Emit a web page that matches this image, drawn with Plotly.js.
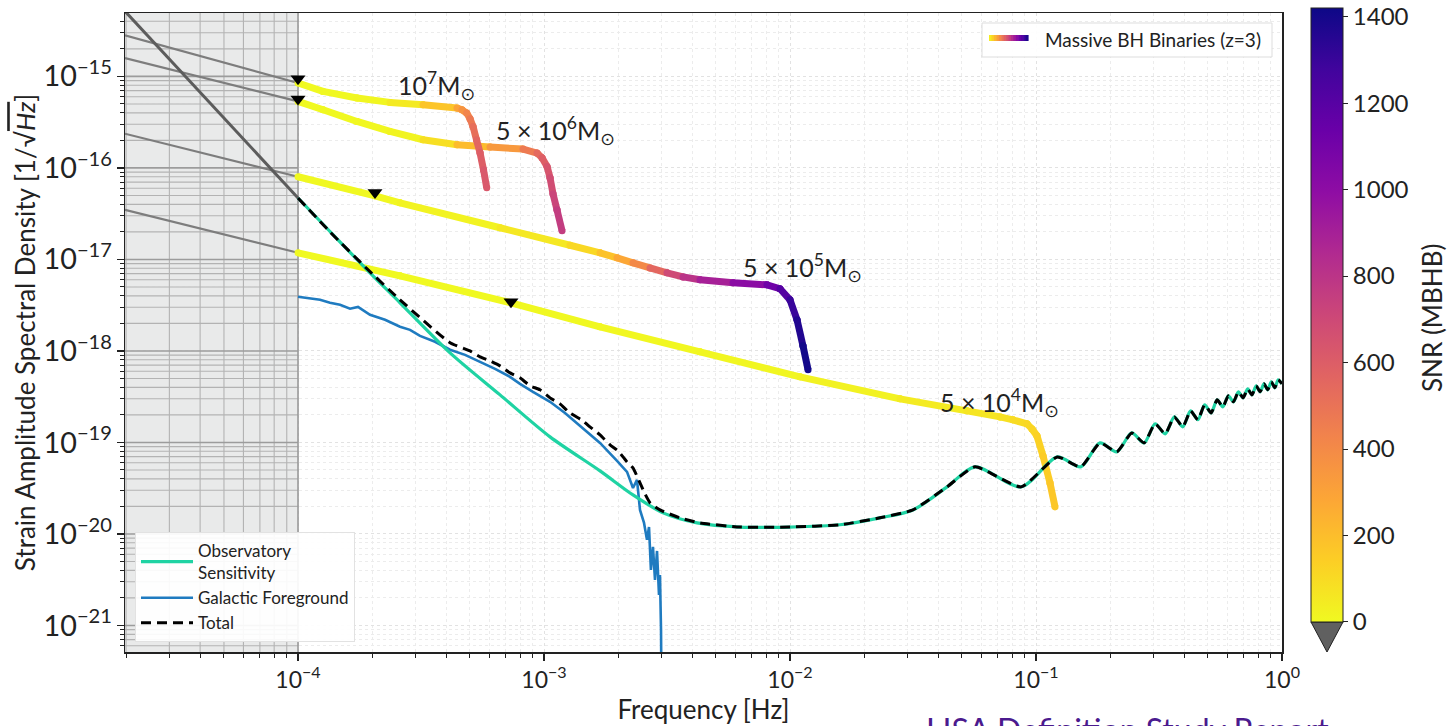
<!DOCTYPE html>
<html><head><meta charset="utf-8">
<script src="https://cdn.plot.ly/plotly-3.0.1.min.js"></script>
<style>html,body{margin:0;padding:0;background:#fff;}#chart{width:1450px;height:726px;}</style>
</head><body><div id="chart"></div>
<script>
// ---------------- data ----------------
// Observatory sensitivity (ASD, 1/sqrt(Hz))
const sensF = [1.0e-4, 1.349e-4, 1.908e-4, 2.598e-4, 4.150e-4, 6.626e-4, 1.058e-3, 1.689e-3, 2.30e-3, 3.047e-3, 4.19e-3, 6.26e-3, 1.0e-2, 1.596e-2, 2.32e-2, 3.16e-2, 4.35e-2, 0.0565, 0.087, 0.122, 0.152, 0.182, 0.213, 0.245, 0.275, 0.305, 0.335, 0.365, 0.395, 0.425, 0.455, 0.485, 0.515, 0.545, 0.575, 0.605, 0.635, 0.665, 0.695, 0.725, 0.755, 0.785, 0.815, 0.845, 0.875, 0.905, 0.935, 0.965, 1.0];
const sensH = [4.69e-17, 2.02e-17, 7.70e-18, 3.36e-18, 9.53e-19, 3.31e-19, 1.15e-19, 4.89e-20, 2.67e-20, 1.70e-20, 1.32e-20, 1.19e-20, 1.19e-20, 1.26e-20, 1.50e-20, 1.83e-20, 3.27e-20, 5.41e-20, 3.27e-20, 6.95e-20, 5.41e-20, 9.89e-20, 7.89e-20, 1.27e-19, 9.89e-20, 1.60e-19, 1.24e-19, 1.90e-19, 1.48e-19, 2.21e-19, 1.77e-19, 2.58e-19, 2.10e-19, 2.92e-19, 2.45e-19, 3.23e-19, 2.78e-19, 3.57e-19, 3.07e-19, 3.85e-19, 3.31e-19, 4.16e-19, 3.57e-19, 4.37e-19, 3.76e-19, 4.59e-19, 3.95e-19, 4.83e-19, 4.37e-19];

// Galactic foreground
const fgF = [1.0e-4, 1.119e-4, 1.229e-4, 1.349e-4, 1.482e-4, 1.627e-4, 1.754e-4, 1.962e-4, 2.258e-4, 2.598e-4, 2.853e-4, 3.133e-4, 3.606e-4, 4.150e-4, 4.775e-4, 5.494e-4, 6.323e-4, 7.276e-4, 7.988e-4, 9.02e-4, 1.058e-3, 1.217e-3, 1.440e-3, 1.689e-3, 1.981e-3, 2.175e-3, 2.30e-3, 2.388e-3, 2.456e-3, 2.55e-3, 2.622e-3, 2.672e-3, 2.72e-3, 2.773e-3, 2.826e-3, 2.88e-3, 2.934e-3, 2.961e-3, 2.99e-3, 3.0e-3];
const fgH = [3.91e-18, 3.72e-18, 3.62e-18, 3.36e-18, 3.19e-18, 2.89e-18, 3.03e-18, 2.48e-18, 2.19e-18, 1.84e-18, 1.70e-18, 1.46e-18, 1.26e-18, 1.03e-18, 9.06e-19, 7.60e-19, 6.37e-19, 5.21e-19, 4.37e-19, 3.57e-19, 2.78e-19, 2.10e-19, 1.44e-19, 9.89e-20, 6.29e-20, 4.77e-20, 3.18e-20, 3.90e-20, 1.83e-20, 1.32e-20, 8.61e-21, 1.19e-20, 4.05e-21, 7.21e-21, 3.15e-21, 6.52e-21, 2.15e-21, 3.56e-21, 8.93e-22, 2.54e-22];

// Total (low-frequency part; above 6e-3 Hz it follows the sensitivity)
const totLowF = [1.0e-4, 1.349e-4, 1.908e-4, 2.598e-4, 4.150e-4, 5.003e-4, 5.494e-4, 6.032e-4, 6.626e-4, 7.276e-4, 7.988e-4, 8.771e-4, 9.63e-4, 1.058e-3, 1.161e-3, 1.275e-3, 1.440e-3, 1.538e-3, 1.689e-3, 1.855e-3, 2.0e-3, 2.175e-3, 2.30e-3, 2.456e-3, 2.574e-3, 2.70e-3, 2.961e-3, 3.572e-3, 4.307e-3];
const totLowH = [4.69e-17, 2.0e-17, 7.9e-18, 3.62e-18, 1.23e-18, 1.00e-18, 8.61e-19, 7.80e-19, 6.87e-19, 5.76e-19, 5.08e-19, 4.16e-19, 3.76e-19, 3.07e-19, 2.64e-19, 2.10e-19, 1.72e-19, 1.48e-19, 1.21e-19, 9.42e-20, 8.09e-20, 6.13e-20, 5.27e-20, 3.61e-20, 2.74e-20, 2.18e-20, 1.83e-20, 1.50e-20, 1.32e-20];

// Massive BH binary tracks (z=3): frequency, ASD, accumulated SNR
const m1e7F = [1.0e-4, 1.264e-4, 1.737e-4, 2.366e-4, 3.222e-4, 4.430e-4, 4.642e-4, 4.851e-4, 5.003e-4, 5.145e-4, 5.317e-4, 5.494e-4, 5.677e-4, 5.851e-4];
const m1e7H = [8.47e-16, 6.86e-16, 5.81e-16, 5.20e-16, 4.91e-16, 4.51e-16, 4.32e-16, 3.98e-16, 3.45e-16, 2.84e-16, 2.03e-16, 1.464e-16, 9.55e-17, 6.07e-17];
const m1e7S = [0, 3, 6, 12, 90, 260, 330, 400, 450, 500, 540, 580, 610, 640];

const m5e6F = [1.0e-4, 1.264e-4, 1.737e-4, 2.366e-4, 3.222e-4, 4.430e-4, 6.032e-4, 8.215e-4, 9.365e-4, 9.815e-4, 1.029e-3, 1.058e-3, 1.088e-3, 1.129e-3, 1.184e-3];
const m5e6H = [5.33e-16, 4.32e-16, 3.22e-16, 2.504e-16, 2.032e-16, 1.792e-16, 1.691e-16, 1.608e-16, 1.454e-16, 1.291e-16, 1.038e-16, 7.81e-17, 5.19e-17, 3.49e-17, 2.056e-17];
const m5e6S = [0, 3, 6, 10, 20, 150, 260, 420, 520, 570, 620, 660, 700, 740, 780];

const m5e5F = [1.0e-4, 2.056e-4, 2.598e-4, 6.626e-4, 1.275e-3, 1.689e-3, 1.981e-3, 2.30e-3, 2.697e-3, 3.162e-3, 3.673e-3, 4.307e-3, 5.866e-3, 8.061e-3, 9.107e-3, 1.0e-2, 1.068e-2, 1.129e-2, 1.184e-2];
const m5e5H = [8.01e-17, 4.96e-17, 4.16e-17, 2.218e-17, 1.428e-17, 1.182e-17, 1.042e-17, 9.19e-18, 8.07e-18, 7.14e-18, 6.44e-18, 5.99e-18, 5.55e-18, 5.28e-18, 4.78e-18, 3.62e-18, 2.19e-18, 1.137e-18, 6.22e-19];
const m5e5S = [0, 5, 8, 30, 80, 140, 230, 330, 480, 630, 760, 850, 950, 1070, 1160, 1260, 1340, 1390, 1415];

const m5e4F = [1.0e-4, 2.598e-4, 7.343e-4, 1.689e-3, 4.307e-3, 1.098e-2, 2.80e-2, 5.242e-2, 7.141e-2, 8.06e-2, 9.192e-2, 9.632e-2, 0.1009, 0.1068, 0.1140, 0.1195];
const m5e4H = [1.182e-17, 6.62e-18, 3.36e-18, 1.835e-18, 9.78e-19, 5.21e-19, 2.996e-19, 2.215e-19, 1.902e-19, 1.765e-19, 1.596e-19, 1.407e-19, 1.180e-19, 7.13e-20, 3.61e-20, 1.975e-20];
const m5e4S = [0, 1, 2, 4, 8, 15, 30, 60, 75, 90, 105, 115, 125, 140, 160, 175];

// gray extensions below 1e-4 Hz
const extF = [1.98e-5, 1.0e-4];
const ext1e7H = [2.81e-15, 8.47e-16];
const ext5e6H = [1.589e-15, 5.33e-16];
const ext5e5H = [2.364e-16, 8.01e-17];
const ext5e4H = [3.49e-17, 1.182e-17];
const steepF = [1.98e-5, 3.996e-5, 1.0e-4];
const steepH = [5.16e-15, 6.69e-16, 4.69e-17];

// black triangle markers
const trigF = [1.0e-4, 1.0e-4, 2.056e-4, 7.343e-4];
const trigH = [9.44e-16, 5.66e-16, 5.39e-17, 3.44e-18];

// labels
const massLabels = ['10<sup>7</sup>M<sub>⊙</sub>', '5 × 10<sup>6</sup>M<sub>⊙</sub>', '5 × 10<sup>5</sup>M<sub>⊙</sub>', '5 × 10<sup>4</sup>M<sub>⊙</sub>'];
const xTickVals = [1e-4, 1e-3, 1e-2, 1e-1, 1];
const xTickText = ['10<sup>−4</sup>', '10<sup>−3</sup>', '10<sup>−2</sup>', '10<sup>−1</sup>', '10<sup>0</sup>'];
const cbTicks = [0, 200, 400, 600, 800, 1000, 1200, 1400];
const SNR_MAX = 1420;

// ---------------- helpers ----------------
const plasmaR = [[0,'#f0f921'],[0.1,'#fcce25'],[0.2,'#fca636'],[0.3,'#f2844b'],[0.4,'#e16462'],[0.5,'#cc4778'],[0.6,'#b12a90'],[0.7,'#8f0da4'],[0.8,'#6a00a8'],[0.9,'#41049d'],[1,'#0d0887']];
function hex2rgb(h){return [parseInt(h.slice(1,3),16),parseInt(h.slice(3,5),16),parseInt(h.slice(5,7),16)];}
function colorAt(t){
  t = Math.max(0, Math.min(1, t));
  for (let i = 0; i < plasmaR.length - 1; i++) {
    const a = plasmaR[i][0], b = plasmaR[i+1][0];
    if (t <= b) {
      const u = (t - a) / (b - a), A = hex2rgb(plasmaR[i][1]), B = hex2rgb(plasmaR[i+1][1]);
      return 'rgb(' + A.map((v,k)=>Math.round(v + (B[k]-v)*u)).join(',') + ')';
    }
  }
  return plasmaR[plasmaR.length-1][1];
}

const XR = [-4.7033, 0], YR = [-21.29, -14.307];
const traces = [];

// dark grid inside the shaded (f < 1e-4 Hz) region
(function(){
  const x0 = Math.pow(10, XR[0]), x1 = 1e-4, y0 = Math.pow(10, YR[0]), y1 = Math.pow(10, YR[1]);
  const mx = [], my = [], Mx = [], My = [];
  for (let k = 2; k <= 9; k++) { mx.push(k*1e-5, k*1e-5, null); my.push(y0, y1, null); }
  for (let d = -22; d <= -15; d++) {
    for (let k = 1; k <= 9; k++) {
      const v = k * Math.pow(10, d);
      if (v < y0 || v > y1) continue;
      if (k === 1) { Mx.push(x0, x1, null); My.push(v, v, null); }
      else { mx.push(x0, x1, null); my.push(v, v, null); }
    }
  }
  traces.push({x:mx, y:my, mode:'lines', line:{color:'#b3b3b3', width:1.1}, showlegend:false, hoverinfo:'skip'});
  traces.push({x:Mx, y:My, mode:'lines', line:{color:'#9c9c9c', width:1.6}, showlegend:false, hoverinfo:'skip'});
  traces.push({x:[x1,x1], y:[y0,y1], mode:'lines', line:{color:'#999999', width:1.6}, showlegend:false, hoverinfo:'skip'});
})();

// gray extensions
[ext1e7H, ext5e6H, ext5e5H, ext5e4H].forEach(h => traces.push({x:extF, y:h, mode:'lines', line:{color:'#7d7d7d', width:2.2}, showlegend:false, hoverinfo:'skip'}));
traces.push({x:steepF, y:steepH, mode:'lines', line:{color:'#5c5c5c', width:3}, showlegend:false, hoverinfo:'skip'});

// MBHB coloured tracks (segment-wise colouring)
function addTrack(F, H, S){
  for (let i = 0; i < F.length - 1; i++) {
    const c = colorAt(((S[i] + S[i+1]) / 2) / SNR_MAX);
    traces.push({x:[F[i], F[i+1]], y:[H[i], H[i+1]], mode:'lines+markers',
      line:{color:c, width:7}, marker:{color:c, size:7, line:{width:0}},
      showlegend:false, hoverinfo:'skip'});
  }
}
addTrack(m5e4F, m5e4H, m5e4S);
addTrack(m5e5F, m5e5H, m5e5S);
addTrack(m5e6F, m5e6H, m5e6S);
addTrack(m1e7F, m1e7H, m1e7S);

// noise curves
traces.push({x:fgF, y:fgH, mode:'lines', name:'Galactic Foreground', legendrank:2, line:{color:'#1f7bc0', width:2.6}, hoverinfo:'skip'});
traces.push({x:sensF, y:sensH, mode:'lines', name:'Observatory<br>Sensitivity', legendrank:1, line:{color:'#1fd3a3', width:3.2, shape:'spline', smoothing:0.8}, hoverinfo:'skip'});
traces.push({x:totLowF.concat(sensF.slice(11)), y:totLowH.concat(sensH.slice(11)), mode:'lines', name:'Total', legendrank:3, line:{color:'#000000', width:3, dash:'10px,6px', shape:'spline', smoothing:0.5}, hoverinfo:'skip'});

// triangles
traces.push({x:trigF, y:trigH, mode:'markers', marker:{symbol:'triangle-down', size:13, color:'#000'}, showlegend:false, hoverinfo:'skip', cliponaxis:false});

// colour bar carrier
traces.push({x:[1e-9], y:[1e-30], mode:'markers', showlegend:false, hoverinfo:'skip',
  marker:{color:[0], cmin:0, cmax:SNR_MAX, colorscale:plasmaR, showscale:true, size:1,
    colorbar:{x:1.0251, xanchor:'left', y:0.047, yanchor:'bottom', len:614, lenmode:'pixels', thickness:32, thicknessmode:'pixels',
      xpad:0, ypad:0, outlinecolor:'#222', outlinewidth:1, tickmode:'array', tickvals:cbTicks, ticks:'outside', ticklen:5, tickcolor:'#222',
      tickfont:{size:24, color:'#222'}}}});

// ---------------- layout ----------------
const PX = p => (p - 125) / 1157, PY = p => (652 - p) / 639;
const shapes = [
  {type:'rect', xref:'x domain', yref:'y domain', x0:0, x1:0.14952, y0:0, y1:1, fillcolor:'#e9eaea', line:{width:0}, layer:'below'},
  {type:'path', xref:'paper', yref:'paper', path:'M '+PX(1311)+' '+PY(622)+' L '+PX(1343)+' '+PY(622)+' L '+PX(1327)+' '+PY(652)+' Z', fillcolor:'#606060', line:{color:'#222', width:1}},
  {type:'rect', xref:'paper', yref:'paper', x0:PX(982), x1:PX(1272), y0:PY(57), y1:PY(23), fillcolor:'rgba(255,255,255,0.92)', line:{color:'#dddddd', width:1}}
];
const NSEG = 16;
for (let i = 0; i < NSEG; i++) {
  const a = 989 + (1028-989)*i/NSEG, b = 989 + (1028-989)*(i+1)/NSEG;
  shapes.push({type:'line', xref:'paper', yref:'paper', x0:PX(a), x1:PX(b+0.6), y0:PY(38), y1:PY(38), line:{color:colorAt((i+0.5)/NSEG), width:6}});
}

const lblFont = {family:'Lato, "DejaVu Sans", sans-serif', size:25, color:'#222'};
const annotations = [
  {xref:'paper', yref:'paper', x:PX(396), y:PY(86), xanchor:'left', yanchor:'middle', text:massLabels[0], showarrow:false, font:lblFont},
  {xref:'paper', yref:'paper', x:PX(494), y:PY(130), xanchor:'left', yanchor:'middle', text:massLabels[1], showarrow:false, font:lblFont},
  {xref:'paper', yref:'paper', x:PX(741), y:PY(267), xanchor:'left', yanchor:'middle', text:massLabels[2], showarrow:false, font:lblFont},
  {xref:'paper', yref:'paper', x:PX(938), y:PY(402), xanchor:'left', yanchor:'middle', text:massLabels[3], showarrow:false, font:lblFont},
  {xref:'paper', yref:'paper', x:PX(1043), y:PY(39), xanchor:'left', yanchor:'middle', text:'Massive BH Binaries (z=3)', showarrow:false, font:{size:19, color:'#222'}},
  {xref:'paper', yref:'paper', x:PX(1432), y:PY(318), xanchor:'center', yanchor:'middle', textangle:-90, text:'SNR (MBHB)', showarrow:false, font:{size:26, color:'#222'}},
  {xref:'paper', yref:'paper', x:PX(924), y:PY(708), xanchor:'left', yanchor:'top', text:'LISA Definition Study Report', showarrow:false, font:{size:32, color:'#4b1a8e'}}
];

const axisCommon = {
  type:'log', ticks:'outside', ticklen:7, tickwidth:1.3, tickcolor:'#222',
  showline:true, linecolor:'#222', linewidth:1.5, mirror:true, zeroline:false,
  showgrid:true, gridcolor:'#e2e2e2', griddash:'dot', gridwidth:1,
  tickfont:{size:23, color:'#222'},
  minor:{dtick:'D1', ticks:'outside', ticklen:4, tickwidth:1, tickcolor:'#222', showgrid:true, gridcolor:'#ececec', griddash:'dot', gridwidth:1}
};

const layout = {
  width:1450, height:726,
  margin:{l:125, r:168, t:13, b:74, autoexpand:false},
  paper_bgcolor:'#ffffff', plot_bgcolor:'#ffffff',
  font:{family:'Lato, "DejaVu Sans", sans-serif', size:21, color:'#222'},
  showlegend:true,
  legend:{x:PX(135), y:PY(642), xanchor:'left', yanchor:'bottom', bgcolor:'rgba(255,255,255,0.92)', bordercolor:'#e2e2e2', borderwidth:1, font:{size:17, color:'#222'}, tracegroupgap:0, itemwidth:52},
  xaxis:Object.assign({}, axisCommon, {range:XR, tickmode:'array', tickvals:xTickVals, ticktext:xTickText,
    title:{text:'Frequency [Hz]', font:{size:26}, standoff:4}}),
  yaxis:Object.assign({}, axisCommon, {range:YR, dtick:1, exponentformat:'power',
    title:{text:'Strain Amplitude Spectral Density [1/√<span style="text-decoration:overline"><i>Hz</i></span>]', font:{size:26}, standoff:0}}),
  shapes:shapes,
  annotations:annotations
};

Plotly.newPlot('chart', traces, layout, {displayModeBar:false, staticPlot:true});
</script>
</body></html>
